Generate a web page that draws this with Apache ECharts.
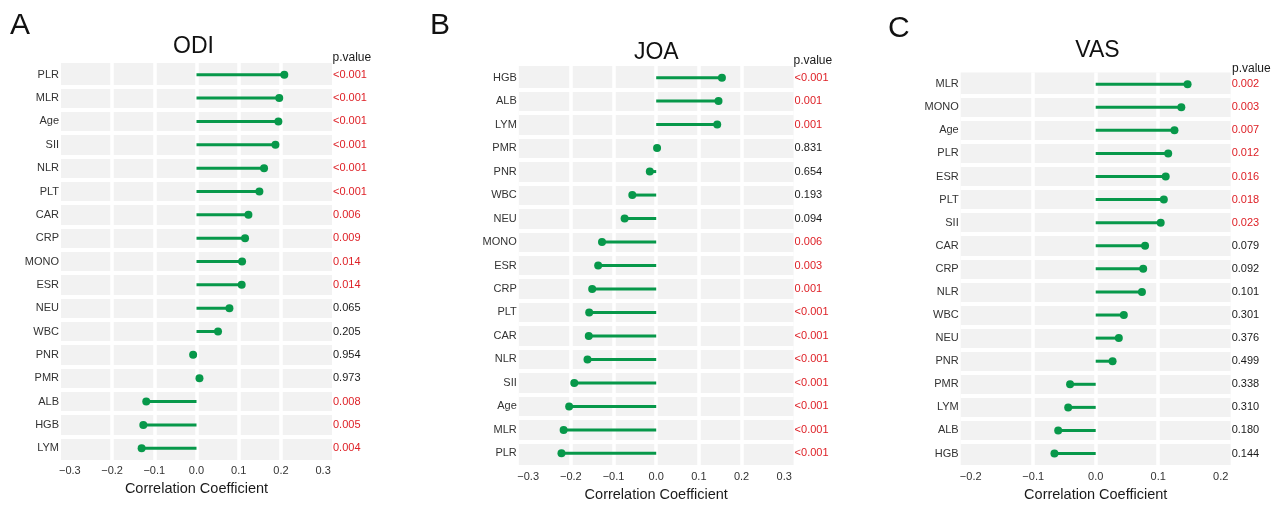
<!DOCTYPE html>
<html><head><meta charset="utf-8">
<script src="https://cdn.jsdelivr.net/npm/echarts@6/dist/echarts.min.js"></script>
<style>html,body{margin:0;padding:0;background:#fff}#c{width:1277px;height:507px}</style>
</head><body><div id="c"></div>
<script>
// ---- data ----
const odiCats = ['PLR','MLR','Age','SII','NLR','PLT','CAR','CRP','MONO','ESR','NEU','WBC','PNR','PMR','ALB','HGB','LYM'];
const odiVals = [0.208,0.196,0.194,0.187,0.160,0.149,0.123,0.115,0.108,0.107,0.078,0.051,-0.008,0.007,-0.119,-0.126,-0.130];
const odiP = ['<0.001','<0.001','<0.001','<0.001','<0.001','<0.001','0.006','0.009','0.014','0.014','0.065','0.205','0.954','0.973','0.008','0.005','0.004'];

const joaCats = ['HGB','ALB','LYM','PMR','PNR','WBC','NEU','MONO','ESR','CRP','PLT','CAR','NLR','SII','Age','MLR','PLR'];
const joaVals = [0.154,0.146,0.143,0.002,-0.015,-0.056,-0.074,-0.127,-0.136,-0.150,-0.157,-0.158,-0.161,-0.192,-0.204,-0.217,-0.222];
const joaP = ['<0.001','0.001','0.001','0.831','0.654','0.193','0.094','0.006','0.003','0.001','<0.001','<0.001','<0.001','<0.001','<0.001','<0.001','<0.001'];

const vasCats = ['MLR','MONO','Age','PLR','ESR','PLT','SII','CAR','CRP','NLR','WBC','NEU','PNR','PMR','LYM','ALB','HGB'];
const vasVals = [0.147,0.137,0.126,0.116,0.112,0.109,0.104,0.079,0.076,0.074,0.045,0.037,0.027,-0.041,-0.044,-0.060,-0.066];
const vasP = ['0.002','0.003','0.007','0.012','0.016','0.018','0.023','0.079','0.092','0.101','0.301','0.376','0.499','0.338','0.310','0.180','0.144'];

const ticksAB = [-0.3,-0.2,-0.1,0,0.1,0.2,0.3];
const ticksC = [-0.2,-0.1,0,0.1,0.2];

const panelLetters = ['A','B','C'];
const panelTitles = ['ODI','JOA','VAS'];

// ---- style ----
const FONT = 'Liberation Sans, Arial, Helvetica, sans-serif';
const GREEN = '#07984A';
const RED = '#DE2127';
const BG = '#F2F2F2';

const panels = [
  {cats: odiCats, vals: odiVals, p: odiP, ticks: ticksAB, r: 0.321,
   grid: {left: 61, top: 63.1, width: 271, height: 396.8},
   title: [193.5, 47], letter: [10, 25.5], head: [332.5, 57.5]},
  {cats: joaCats, vals: joaVals, p: joaP, ticks: ticksAB, r: 0.322,
   grid: {left: 518.8, top: 65.9, width: 274.8, height: 401.9},
   title: [656.3, 52.7], letter: [430, 26], head: [793.5, 60.7]},
  {cats: vasCats, vals: vasVals, p: vasP, ticks: ticksC, r: 0.216,
   grid: {left: 960.7, top: 72.6, width: 270, height: 397.4},
   title: [1097.5, 51], letter: [888, 28.5], head: [1232, 68.5]}
];

const fmtTick = v => (v < 0 ? '\u2212' : '') + Math.abs(v).toFixed(1);
const isSig = s => s.charAt(0) === '<' || parseFloat(s) < 0.05;

const option = {
  animation: false,
  backgroundColor: '#fff',
  textStyle: {fontFamily: FONT},
  title: [], grid: [], xAxis: [], yAxis: [], series: []
};

panels.forEach((pn, i) => {
  option.grid.push(Object.assign({show: true, backgroundColor: BG, borderWidth: 0, containLabel: false}, pn.grid));
  option.title.push({text: panelLetters[i], left: pn.letter[0], top: pn.letter[1], padding: 0,
    textAlign: 'left', textVerticalAlign: 'middle',
    textStyle: {fontFamily: FONT, fontSize: 30, fontWeight: 'normal', color: '#111'}});
  option.title.push({text: panelTitles[i], left: pn.title[0], top: pn.title[1], padding: 0,
    textAlign: 'center', textVerticalAlign: 'middle',
    textStyle: {fontFamily: FONT, fontSize: 23, fontWeight: 'normal', color: '#111'}});
  option.title.push({text: 'p.value', left: pn.head[0], top: pn.head[1], padding: 0,
    textAlign: 'left', textVerticalAlign: 'middle',
    textStyle: {fontFamily: FONT, fontSize: 12, fontWeight: 'normal', color: '#1a1a1a'}});

  option.xAxis.push({
    gridIndex: i, type: 'value', min: -pn.r, max: pn.r,
    axisLine: {show: false},
    axisTick: {show: false, customValues: pn.ticks},
    axisLabel: {customValues: pn.ticks, formatter: fmtTick, fontSize: 11, color: '#333', margin: 6, fontFamily: FONT},
    splitLine: {show: true, showMinLine: false, showMaxLine: false, lineStyle: {color: '#fff', width: 3.5}},
    name: 'Correlation Coefficient', nameLocation: 'middle', nameGap: 21,
    nameTextStyle: {fontSize: 14.5, color: '#1a1a1a', fontFamily: FONT}
  });
  option.yAxis.push({
    gridIndex: i, type: 'category', data: pn.cats, inverse: true, position: 'left',
    axisLine: {show: false}, axisTick: {show: false},
    axisLabel: {interval: 0, fontSize: 11, color: '#333', margin: 2, fontFamily: FONT},
    splitLine: {show: true, interval: 0, showMinLine: false, showMaxLine: false, lineStyle: {color: '#fff', width: 4}}
  });
  const pv = pn.p;
  option.yAxis.push({
    gridIndex: i, type: 'category', data: pn.cats, inverse: true, position: 'right',
    axisLine: {show: false}, axisTick: {show: false}, splitLine: {show: false},
    axisLabel: {interval: 0, margin: 1, fontSize: 11, fontFamily: FONT,
      formatter: (v, idx) => (isSig(pv[idx]) ? '{r|' : '{k|') + pv[idx] + '}',
      rich: {r: {color: RED, fontSize: 11, fontFamily: FONT}, k: {color: '#1a1a1a', fontSize: 11, fontFamily: FONT}}}
  });
  option.series.push({
    type: 'bar', xAxisIndex: i, yAxisIndex: 2 * i, barWidth: 3, silent: true,
    itemStyle: {color: GREEN},
    data: pn.vals.map((v, k) => [v, pn.cats[k]])
  });
  option.series.push({
    type: 'scatter', xAxisIndex: i, yAxisIndex: 2 * i, symbolSize: 8, silent: true, z: 5,
    itemStyle: {color: GREEN, opacity: 1},
    data: pn.vals.map((v, k) => [v, pn.cats[k]])
  });
});

const chart = echarts.init(document.getElementById('c'), null, {renderer: 'canvas'});
chart.setOption(option);
</script>
</body></html>
